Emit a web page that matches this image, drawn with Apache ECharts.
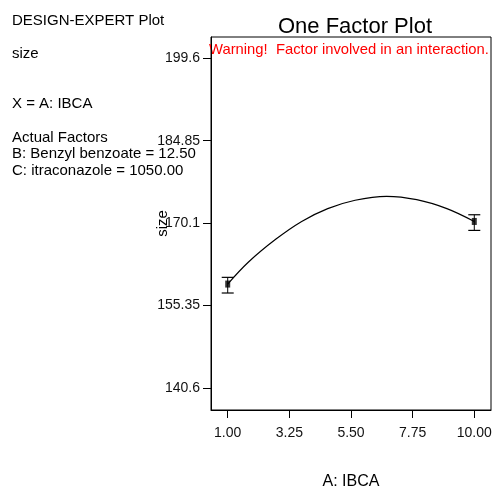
<!DOCTYPE html>
<html>
<head>
<meta charset="utf-8">
<script src="https://cdn.jsdelivr.net/npm/echarts@6/dist/echarts.min.js"></script>
<style>html,body{margin:0;padding:0;background:#fff;}#c{width:494px;height:489px;}</style>
</head>
<body>
<div id="c"></div>
<script>
// Data
const curveX = [1, 1.75, 2.75, 3.7, 4.65, 5.65, 6.8, 7.9, 9, 10];
const curveY = [159.2, 163.1, 167.2, 170.4, 172.7, 174.2, 174.9, 174.3, 172.7, 170.4];
const designX = [1, 10];
const designY = [159.2, 170.4];
const errLow = [157.6, 168.8];
const errHigh = [160.4, 171.6];
const xTicks = [1, 3.25, 5.5, 7.75, 10];
const yTicks = [140.6, 155.35, 170.1, 184.85, 199.6];
const xTickLabels = ['1.00', '3.25', '5.50', '7.75', '10.00'];
const yTickLabels = ['140.6', '155.35', '170.1', '184.85', '199.6'];

const FONT = 'Liberation Sans, Arial, sans-serif';
const chart = echarts.init(document.getElementById('c'));

const leftTexts = [
  ['DESIGN-EXPERT Plot', 20],
  ['size', 53],
  ['X = A: IBCA', 103],
  ['Actual Factors', 137],
  ['B: Benzyl benzoate = 12.50', 153],
  ['C: itraconazole = 1050.00', 170]
];

chart.setOption({
  animation: false,
  backgroundColor: '#fff',
  title: {
    text: 'One Factor Plot',
    left: 350, top: 11, textAlign: 'center',
    textStyle: {fontFamily: FONT, fontSize: 22, fontWeight: 'normal', color: '#000'}
  },
  grid: {left: 211, right: 3, top: 37, bottom: 79, show: true, borderColor: '#000', borderWidth: 1,
         containLabel: false, outerBoundsMode: 'none'},
  xAxis: {
    type: 'value', min: 0.39, max: 10.61,
    name: 'A: IBCA', nameLocation: 'middle', nameGap: 64, nameMoveOverlap: false,
    nameTextStyle: {fontFamily: FONT, fontSize: 16, color: '#000'},
    axisLine: {show: true, onZero: false, lineStyle: {color: '#000'}},
    axisTick: {show: true, length: 8, customValues: xTicks, lineStyle: {color: '#000'}},
    axisLabel: {
      customValues: xTicks, margin: 16,
      fontFamily: FONT, fontSize: 14, color: '#111',
      formatter: v => { const i = xTicks.findIndex(t => Math.abs(t - v) < 1e-6); return i >= 0 ? xTickLabels[i] : ''; }
    },
    splitLine: {show: false}
  },
  yAxis: {
    type: 'value', min: 136.67, max: 203.4,
    name: 'size', nameLocation: 'middle', nameGap: 41, nameRotate: 90, nameMoveOverlap: false,
    nameTextStyle: {fontFamily: FONT, fontSize: 15, color: '#000'},
    axisLine: {show: true, onZero: false, lineStyle: {color: '#000'}},
    axisTick: {show: true, length: 8, customValues: yTicks, lineStyle: {color: '#000'}},
    axisLabel: {
      customValues: yTicks, margin: 11,
      fontFamily: FONT, fontSize: 14, color: '#111',
      formatter: v => { const i = yTicks.findIndex(t => Math.abs(t - v) < 1e-6); return i >= 0 ? yTickLabels[i] : ''; }
    },
    splitLine: {show: false}
  },
  graphic: [
    ...leftTexts.map(([t, y]) => ({
      type: 'text', left: 12, top: y - 7,
      style: {text: t, font: '15px ' + FONT, fill: '#000'}
    })),
    {
      type: 'text', left: 209, top: 42,
      style: {text: 'Warning!  Factor involved in an interaction.', font: '14.8px ' + FONT, fill: '#ff0000'}
    }
  ],
  series: [
    {
      type: 'line', smooth: 0.35, showSymbol: false,
      data: curveX.map((x, i) => [x, curveY[i]]),
      lineStyle: {color: '#000', width: 1.2}
    },
    {
      type: 'custom',
      data: designX.map((x, i) => [x, errLow[i], errHigh[i]]),
      renderItem: (params, api) => {
        const lo = api.coord([api.value(0), api.value(1)]);
        const hi = api.coord([api.value(0), api.value(2)]);
        const w = 6;
        return {
          type: 'group',
          children: [
            {type: 'line', shape: {x1: lo[0], y1: lo[1], x2: hi[0], y2: hi[1]}, style: {stroke: '#000', lineWidth: 1}},
            {type: 'line', shape: {x1: lo[0] - w, y1: lo[1], x2: lo[0] + w, y2: lo[1]}, style: {stroke: '#000', lineWidth: 1.2}},
            {type: 'line', shape: {x1: hi[0] - w, y1: hi[1], x2: hi[0] + w, y2: hi[1]}, style: {stroke: '#000', lineWidth: 1.2}}
          ]
        };
      }
    },
    {
      type: 'scatter', symbol: 'rect', symbolSize: [5, 7],
      data: designX.map((x, i) => [x, designY[i]]),
      itemStyle: {color: '#000'}
    }
  ]
});
</script>
</body>
</html>
